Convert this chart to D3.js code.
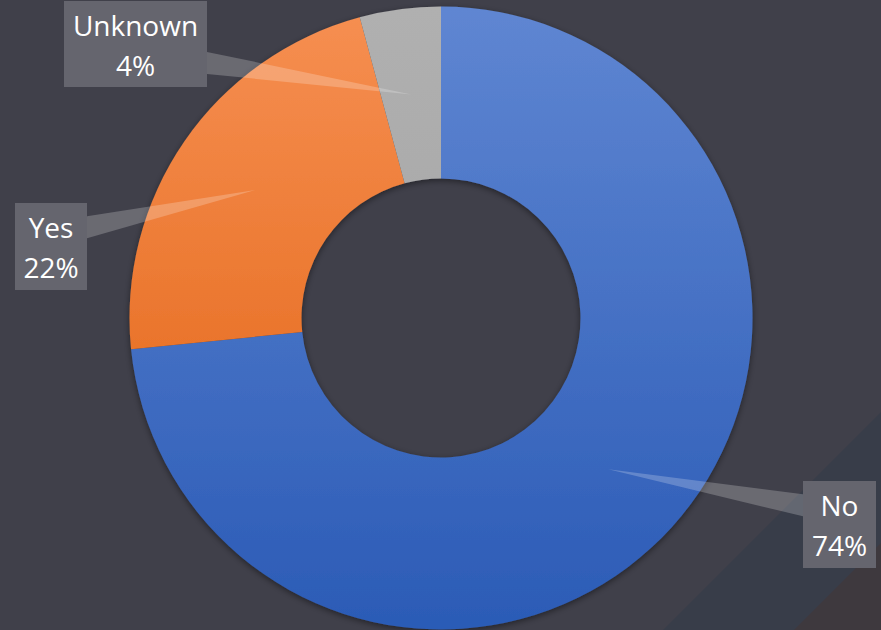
<!DOCTYPE html>
<html><head><meta charset="utf-8">
<script src="https://cdn.jsdelivr.net/npm/d3@7"></script>
<style>html,body{margin:0;padding:0;background:#40404a;overflow:hidden}</style>
</head><body>
<svg id="c" width="881" height="630"></svg>
<script>
const categories = ["No", "Yes", "Unknown"];
const values = [73.4, 22.4, 4.2];
const labels = ["74%", "22%", "4%"];
const colorsTop = ["#5f86d2", "#f68f52", "#b0b0b0"];
const colorsBottom = ["#2b5bb6", "#e05f0c", "#a0a0a0"];
// callout box layout: [x, y, w, h]
const boxes = [[803, 481, 73, 87], [15, 203, 72, 87], [64, 1, 143, 86]];

const W = 881, H = 630, cx = 441, cy = 318, R = 311.5, r = 139.5;
const svg = d3.select("#c");
const defs = svg.append("defs");

// background decorations
svg.append("rect").attr("width", W).attr("height", H).attr("fill", "#40404a");
svg.append("polygon").attr("points", [[881,412],[881,630],[663,630]].join(" ")).attr("fill", "#383d49");
svg.append("polygon").attr("points", [[881,543],[881,630],[794,630]].join(" ")).attr("fill", "#3e393e");

categories.forEach((c, i) => {
  const g = defs.append("linearGradient").attr("id", "g" + i)
    .attr("gradientUnits", "userSpaceOnUse").attr("x1", 0).attr("x2", 0)
    .attr("y1", -R).attr("y2", R);
  g.append("stop").attr("offset", 0).attr("stop-color", colorsTop[i]);
  g.append("stop").attr("offset", 1).attr("stop-color", colorsBottom[i]);
});
const f = defs.append("filter").attr("id", "sh").attr("x", "-10%").attr("y", "-10%").attr("width", "120%").attr("height", "120%");
f.append("feDropShadow").attr("dx", 0).attr("dy", 2).attr("stdDeviation", 3).attr("flood-color", "#000").attr("flood-opacity", 0.45);

const pie = d3.pie().sort(null).value(d => d)(values);
const arc = d3.arc().innerRadius(r).outerRadius(R);
const g = svg.append("g").attr("transform", `translate(${cx},${cy})`);
g.append("g").attr("filter", "url(#sh)").selectAll("path").data(pie).join("path")
  .attr("d", arc).attr("fill", (d, i) => `url(#g${i})`);

// callouts
const mid = d3.arc().innerRadius((r + R) / 2).outerRadius((r + R) / 2);
pie.forEach((d, i) => {
  const [px, py] = mid.centroid(d);
  const tx = cx + px, ty = cy + py;
  const [bx, by, bw, bh] = boxes[i];
  const edgeX = tx > bx + bw ? bx + bw : bx;
  const ymid = Math.max(by + bh * 0.28, Math.min(by + bh * 0.72, ty));
  svg.append("polygon")
    .attr("points", [[tx, ty], [edgeX, ymid - 11], [edgeX, ymid + 11]].join(" "))
    .attr("fill", "rgba(255,255,255,0.22)");
  svg.append("rect").attr("x", bx).attr("y", by).attr("width", bw).attr("height", bh)
    .attr("fill", "#65656e");
  const t = svg.append("text").attr("text-anchor", "middle")
    .attr("font-family", "'Open Sans', 'Noto Sans', sans-serif").attr("font-size", 28)
    .attr("fill", "#ffffff");
  t.append("tspan").attr("x", bx + bw / 2).attr("y", by + 35).text(categories[i]);
  t.append("tspan").attr("x", bx + bw / 2).attr("y", by + 75).text(labels[i]);
});
</script>
</body></html>
